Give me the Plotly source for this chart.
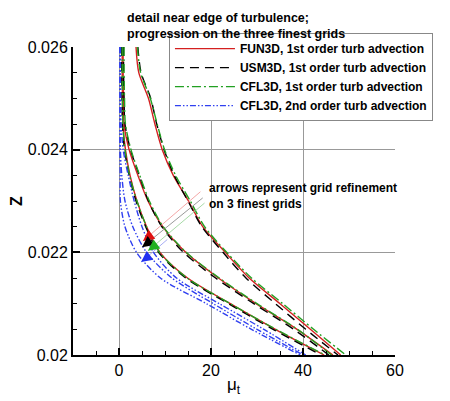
import plotly.graph_objects as go

# Z levels (shared by all curves)
z_levels = [0.026, 0.0255, 0.025, 0.0245, 0.024, 0.0235, 0.023, 0.0225, 0.022, 0.0215, 0.021, 0.0205, 0.020]

# FUN3D, 1st order turb advection (coarse, medium, fine)
fun3d_coarse = [3.7, 4.3, 6.4, 7.8, 9.4, 11.8, 15.1, 18.2, 23.1, 28.3, 35.0, 41.6, 48.2]
fun3d_medium = [0.9, 0.9, 1.0, 1.1, 2.2, 4.1, 6.3, 9.5, 14.5, 21.6, 29.8, 38.7, 46.5]
fun3d_fine = [0.7, 0.7, 0.75, 0.85, 1.4, 2.4, 3.9, 6.0, 8.9, 14.9, 24.2, 34.0, 44.6]

# USM3D, 1st order turb advection
usm3d_coarse = [4.1, 4.8, 6.9, 8.2, 9.8, 12.0, 15.0, 18.0, 22.6, 27.6, 34.0, 40.6, 47.6]
usm3d_medium = [1.0, 1.0, 1.1, 1.3, 2.5, 4.4, 6.4, 9.3, 14.0, 21.0, 29.3, 38.0, 45.6]
usm3d_fine = [0.6, 0.6, 0.65, 0.75, 1.2, 2.2, 3.7, 5.8, 8.6, 14.5, 23.8, 33.5, 43.9]

# CFL3D, 1st order turb advection
cfl1_coarse = [4.0, 4.7, 6.8, 8.3, 9.9, 12.3, 15.5, 18.6, 23.4, 28.8, 35.6, 42.3, 49.3]
cfl1_medium = [1.1, 1.1, 1.2, 1.4, 2.6, 4.5, 6.6, 9.6, 14.6, 21.8, 30.0, 38.8, 46.2]
cfl1_fine = [0.7, 0.7, 0.75, 0.85, 1.3, 2.3, 3.9, 6.0, 8.8, 14.8, 24.2, 34.1, 44.8]

# CFL3D, 2nd order turb advection
cfl2_coarse = [0.3, 0.3, 0.35, 0.45, 0.9, 2.0, 3.3, 5.0, 7.5, 12.5, 21.8, 31.5, 40.6]
cfl2_medium = [0.25, 0.25, 0.25, 0.25, 0.3, 0.6, 1.3, 3.0, 6.0, 11.5, 20.5, 30.0, 40.0]
cfl2_fine = [0.2, 0.2, 0.2, 0.2, 0.2, 0.25, 0.3, 1.3, 3.8, 9.0, 19.0, 28.8, 39.4]

# grid-refinement arrows: (head x, head z, tail x, tail z)
arrow_names = ["FUN3D", "USM3D", "CFL3D 1st", "CFL3D 2nd"]
arrow_head_x = [5.2, 5.0, 6.3, 4.8]
arrow_head_z = [0.02222, 0.0221, 0.02203, 0.02181]
arrow_tail_x = [17.7, 18.2, 18.6, 10.5]
arrow_tail_z = [0.02318, 0.02306, 0.02296, 0.02225]

FONT = "Liberation Sans, Arial, sans-serif"

series = [
    ("FUN3D, 1st order turb advection", "#d42020", "solid", [fun3d_coarse, fun3d_medium, fun3d_fine]),
    ("USM3D, 1st order turb advection", "#000000", "9px,6px", [usm3d_coarse, usm3d_medium, usm3d_fine]),
    ("CFL3D, 1st order turb advection", "#22a022", "9px,3px,2px,3px", [cfl1_coarse, cfl1_medium, cfl1_fine]),
    ("CFL3D, 2nd order turb advection", "#3040f0", "6px,2px,1.5px,2px,1.5px,2px", [cfl2_coarse, cfl2_medium, cfl2_fine]),
]

fig = go.Figure()
for name, color, dash, grids in series:
    for i, xs in enumerate(grids):
        fig.add_trace(go.Scatter(
            x=xs, y=z_levels, mode="lines",
            name="<b>" + name + "</b>", legendgroup=name, showlegend=(i == 0),
            line=dict(color=color, dash=dash, width=1.4, shape="spline", smoothing=0.8),
            hoverinfo="skip",
        ))

line_colors = ["#f09090", "#808080", "#90d090", "#9098f0"]
head_colors = ["#e01010", "#000000", "#20b020", "#2030f0"]
shapes = []
annotations = []
for hx, hz, tx, tz, lc, hc in zip(arrow_head_x, arrow_head_z, arrow_tail_x, arrow_tail_z, line_colors, head_colors):
    shapes.append(dict(
        type="line", x0=hx, y0=hz, x1=tx, y1=tz, xref="x", yref="y",
        line=dict(color=lc, width=0.8),
    ))
    annotations.append(dict(
        x=hx, y=hz, ax=8, ay=-6, xref="x", yref="y",
        text="", showarrow=True, arrowhead=2, arrowsize=1.4, arrowwidth=1.6, arrowcolor=hc,
    ))

annotations.append(dict(
    x=19.2, y=0.02343, xref="x", yref="y", xanchor="left", yanchor="top",
    text="<b>arrows represent grid refinement<br>on 3 finest grids</b>", showarrow=False,
    align="left", font=dict(family=FONT, size=12, color="black"),
))
annotations.append(dict(
    x=0.1615, y=1.122, xref="paper", yref="paper", xanchor="left", yanchor="top",
    text="<b>detail near edge of turbulence;<br>progression on the three finest grids</b>", showarrow=False,
    align="left", font=dict(family=FONT, size=12.5, color="black"),
))
annotations.append(dict(
    x=0.5, y=-0.1, xref="paper", yref="paper", xanchor="center", yanchor="middle",
    text="μ<sub>t</sub>", showarrow=False, font=dict(family=FONT, size=17, color="black"),
))

# the page body adds an 8 px offset, so the figure is sized 8 px smaller
fig.update_layout(
    width=442, height=393,
    margin=dict(l=65, r=55, t=39, b=46, autoexpand=False),
    paper_bgcolor="white", plot_bgcolor="white",
    font=dict(family=FONT, size=16, color="black"),
    annotations=annotations,
    shapes=shapes,
    legend=dict(
        x=0.298, y=1.045, xanchor="left", yanchor="top",
        bgcolor="white", bordercolor="#888888", borderwidth=1,
        font=dict(family=FONT, size=12, color="black"),
        itemwidth=60, tracegroupgap=0,
    ),
    xaxis=dict(
        range=[-10, 60], tick0=0, dtick=20, showgrid=True, gridcolor="#999999", gridwidth=1.2,
        zeroline=False, showline=True, linecolor="black", linewidth=2, automargin=False,
        ticks="inside", ticklen=7, tickwidth=2, tickcolor="black",
        minor=dict(dtick=5, ticks="inside", ticklen=4, tickwidth=1, tickcolor="black", showgrid=False),
        tickfont=dict(size=16),
    ),
    yaxis=dict(
        range=[0.02, 0.026], tick0=0.02, dtick=0.002, showgrid=True, gridcolor="#999999", gridwidth=1.2,
        zeroline=False, showline=True, linecolor="black", linewidth=2, automargin=False,
        ticks="inside", ticklen=7, tickwidth=2, tickcolor="black",
        minor=dict(dtick=0.0005, ticks="inside", ticklen=4, tickwidth=1, tickcolor="black", showgrid=False),
        tickfont=dict(size=16),
        title=dict(text="<b>Z</b>", font=dict(size=16), standoff=6),
    ),
)

fig.write_html("out.html")
